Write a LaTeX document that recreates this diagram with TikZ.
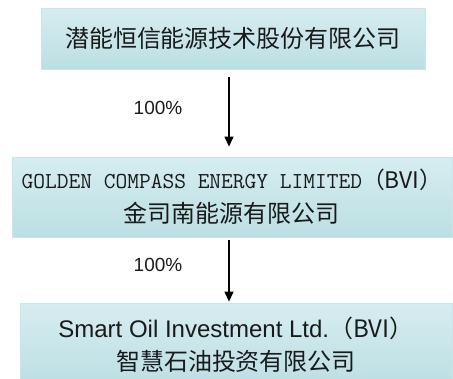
\documentclass[tikz,border=0pt]{standalone}
\usepackage{fontspec}
\setmainfont{Liberation Sans}
\newfontfamily\cjk{Noto Sans CJK SC}
\usetikzlibrary{arrows.meta}
\definecolor{boxtop}{HTML}{D6EDF0}
\definecolor{boxbot}{HTML}{BBDFE3}
\definecolor{boxline}{HTML}{C9E5E9}
\definecolor{txt}{HTML}{1A1A1A}
\tikzset{
  entity/.style={draw=boxline, line width=0.8pt, top color=boxtop, bottom color=boxbot,
    inner sep=0pt, align=center, text=txt},
  arr/.style={line width=1.1pt, -{Triangle[width=9pt,length=10pt]}},
  pct/.style={font=\fontsize{19}{22}\selectfont, text=txt, inner sep=0pt}
}
\begin{document}
\begin{tikzpicture}[x=1pt,y=-1pt]
\useasboundingbox (0,0) rectangle (453,378);
\clip (0,0) rectangle (453,378);
\node[entity, minimum width=384pt, minimum height=61pt,
  font=\cjk\fontsize{24}{30}\selectfont] (b1) at (233,38.5) {潜能恒信能源技术股份有限公司};
\node[entity, minimum width=440pt, minimum height=80pt,
  font=\fontsize{24}{34}\selectfont] (b2) at (232,197)
  {{\ttfamily\fontsize{22.8}{34}\selectfont GOLDEN COMPASS ENERGY LIMITED\cjk{（}BVI\cjk{）}}\\
   {\cjk 金司南能源有限公司}};
\node[entity, minimum width=432pt, minimum height=84pt,
  font=\fontsize{24}{33}\selectfont] (b3) at (236,345)
  {Smart Oil Investment Ltd.\cjk{（}BVI\cjk{）}\\ {\cjk 智慧石油投资有限公司}};
\coordinate (ax) at (229,0);
\draw[arr] ([yshift=-8pt]b1.south -| ax) -- ([yshift=10pt]b2.north -| ax);
\draw[arr] ([yshift=-3pt]b2.south -| ax) -- ([yshift=1pt]b3.north -| ax);
\node[pct] (p1) at (158,108) {100\%};
\node[pct] (p2) at (158,265) {100\%};
\end{tikzpicture}
\end{document}
